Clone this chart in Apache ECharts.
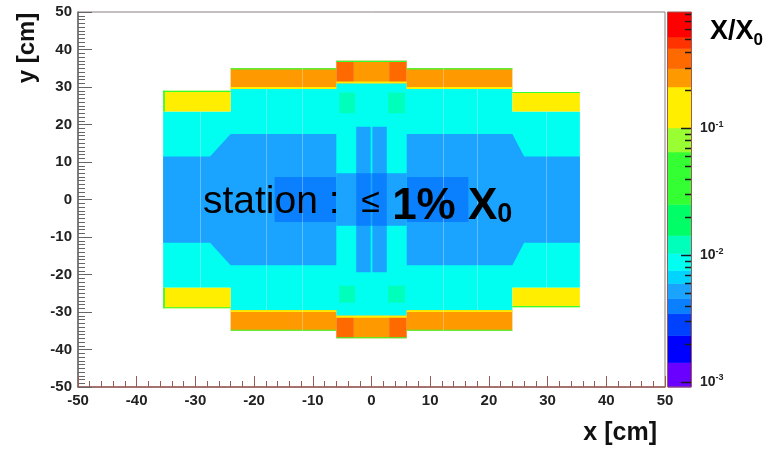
<!DOCTYPE html>
<html>
<head>
<meta charset="utf-8">
<script src="https://cdn.jsdelivr.net/npm/echarts@6/dist/echarts.min.js"></script>
<style>
html, body { margin: 0; padding: 0; background: #fff; }
#chart { width: 777px; height: 449px; }
</style>
</head>
<body>
<div id="chart"></div>
<script>
// colour scale: band edges in log10(X/X0) and one colour per band (low -> high)
var bandEdges = [-3.04, -2.846, -2.633, -2.46, -2.341, -2.223, -2.12, -1.986, -1.844, -1.6, -1.187, -0.998, -0.674, -0.529, -0.371, -0.28, -0.085];
var bandColors = ['#6a00ff', '#0000ff', '#0040ff', '#0a80ff', '#1aa3ff', '#00d4ff', '#00fff0', '#00ffbb', '#00ff66', '#33ff33', '#99ff33', '#ffee00', '#ff9900', '#ff6a00', '#ff3300', '#ff0000'];
var cbarMajor = [0.001, 0.01, 0.1];
var cbarMinor = [0.002, 0.003, 0.004, 0.005, 0.006, 0.007, 0.008, 0.009,
                 0.02, 0.03, 0.04, 0.05, 0.06, 0.07, 0.08, 0.09,
                 0.2, 0.3, 0.4, 0.5, 0.6, 0.7, 0.8];

// material map, painted in order: [xmin, xmax, ymin, ymax, X/X0]
var cyanBlocks = [
    [-35.5, 35.5, -23.5, 23.5, 0.009],
    [-24, 24, -29.5, 29.5, 0.009],
    [-6, 6, -31, 31, 0.009]
];
var yellowBlocks = [
    [-35.5, -24, 23.5, 29, 0.15], [24, 35.5, 23.5, 28.7, 0.15],
    [-35.5, -24, -29, -23.5, 0.15], [24, 35.5, -28.7, -23.5, 0.15]
];
var orangeBlocks = [
    [-24, -6, 29.5, 35, 0.25], [6, 24, 29.5, 35, 0.25],
    [-24, -6, -35, -29.5, 0.25], [6, 24, -35, -29.5, 0.25]
];
var centreBlocks = [
    [-6, -3, 31, 37, 0.35], [-3, 3, 31, 37, 0.22], [3, 6, 31, 37, 0.35],
    [-6, -3, -37, -31, 0.35], [-3, 3, -37, -31, 0.22], [3, 6, -37, -31, 0.35]
];
// inner / outer edges of the frames
var edgeStrips = [
    [-24, -6, 29.5, 30, 0.12], [6, 24, 29.5, 30, 0.12], [-24, -6, -30, -29.5, 0.12], [6, 24, -30, -29.5, 0.12],
    [-6, 6, 31, 31.5, 0.12], [-6, 6, -31.5, -31, 0.12],
    [-24, -6, 34.7, 35, 0.04], [6, 24, 34.7, 35, 0.04], [-24, -6, -35, -34.7, 0.04], [6, 24, -35, -34.7, 0.04],
    [-6, 6, 36.7, 37, 0.04], [-6, 6, -37, -36.7, 0.04],
    [-35.5, -24, 28.7, 29, 0.04], [24, 35.5, 28.4, 28.7, 0.04],
    [-35.5, -24, -29, -28.7, 0.04], [24, 35.5, -28.7, -28.4, 0.04],
    [-35.5, -35.2, 23.5, 29, 0.04], [-35.5, -35.2, -29, -23.5, 0.04]
];
// thin sensor region, polygons in cm
var bluePolys = [
    [0.005, [[-35.5, -11.5], [-35.5, 11.5], [-27.5, 11.5], [-24, 17.5], [-6, 17.5], [-6, -17.5], [-24, -17.5], [-27.5, -11.5]]],
    [0.005, [[35.5, -11.5], [35.5, 11.5], [26, 11.5], [24, 17.5], [6, 17.5], [6, -17.5], [24, -17.5], [26, -11.5]]]
];
var innerBlocks = [
    [-16.5, -6, -6, 6, 0.004], [6, 16.5, -6, 6, 0.004],
    [-6, 6, -7, 7, 0.005],
    [-2.6, -0.15, -19.4, 19.4, 0.005], [0.15, 2.6, -19.4, 19.4, 0.005],
    [-2.6, -0.15, -7, 7, 0.004], [0.15, 2.6, -7, 7, 0.004],
    [-5.5, -2.8, 23, 28.5, 0.012], [2.8, 5.7, 23, 28.5, 0.012],
    [-5.5, -2.8, -27.5, -23, 0.012], [2.8, 5.7, -27.5, -23, 0.012]
];
// faint module boundaries: [x, ymin, ymax] in cm
var moduleEdges = [
    [-29.2, -23.5, 23.5], [-17.9, -29.5, 29.5], [-11.8, -35, 35],
    [12.2, -35, 35], [17.9, -29.5, 29.5], [29.8, -23.5, 23.5]
];

// colour bar box in pixels
var cbarLeft = 668;
var cbarWidth = 23;

function colorOf(v) {
    var lv = Math.log10(v);
    for (var i = 0; i < bandColors.length; i++) {
        if (lv < bandEdges[i + 1]) return bandColors[i];
    }
    return bandColors[bandColors.length - 1];
}

function rectItem(params, api) {
    var p0 = api.coord([api.value(0), api.value(3)]);
    var p1 = api.coord([api.value(1), api.value(2)]);
    return {
        type: 'rect',
        shape: { x: p0[0], y: p0[1], width: p1[0] - p0[0], height: p1[1] - p0[1] },
        style: { fill: colorOf(api.value(4)) }
    };
}

function rectSeries(blocks, z) {
    return {
        type: 'custom', xAxisIndex: 0, yAxisIndex: 0, z: z, clip: true,
        renderItem: rectItem, data: blocks, silent: true
    };
}

var cbarData = bandColors.map(function (c, i) {
    return [Math.pow(10, bandEdges[i]), Math.pow(10, bandEdges[i + 1]), i];
});
var zMin = Math.pow(10, bandEdges[0]);
var zMax = Math.pow(10, bandEdges[bandEdges.length - 1]);

var chart = echarts.init(document.getElementById('chart'));
var font = 'Liberation Sans, Arial, sans-serif';

chart.setOption({
    backgroundColor: '#fff',
    animation: false,
    grid: [
        { left: 78, right: 112, top: 12, bottom: 62, outerBoundsMode: 'none', show: true, borderColor: '#8a8080', borderWidth: 1, backgroundColor: '#fff' },
        { left: cbarLeft, width: cbarWidth, top: 12, bottom: 62, outerBoundsMode: 'none' }
    ],
    xAxis: [{
        gridIndex: 0, type: 'value', min: -50, max: 50, interval: 10,
        axisLine: { onZero: false, lineStyle: { color: '#9a5a55', width: 1.5 } },
        axisTick: { inside: true, length: 11, lineStyle: { color: '#9a5a55' } },
        minorTick: { show: true, splitNumber: 5, length: 6, lineStyle: { color: '#9a5a55' } },
        splitLine: { show: false },
        axisLabel: { color: '#222', fontWeight: 'bold', fontSize: 15, margin: 6, fontFamily: font }
    }, {
        gridIndex: 1, type: 'value', min: 0, max: 1, show: false
    }],
    yAxis: [{
        gridIndex: 0, type: 'value', min: -50, max: 50, interval: 10,
        axisLine: { onZero: false, lineStyle: { color: '#666', width: 1.5 } },
        axisTick: { inside: true, length: 14, lineStyle: { color: '#666' } },
        minorTick: { show: true, splitNumber: 10, length: 7, lineStyle: { color: '#666' } },
        splitLine: { show: false },
        axisLabel: { color: '#222', fontWeight: 'bold', fontSize: 15, margin: 6, fontFamily: font }
    }, {
        // colour bar labels
        gridIndex: 1, type: 'log', logBase: 10, min: zMin, max: zMax,
        position: 'right',
        axisLine: { show: false },
        axisTick: { show: false },
        splitLine: { show: false },
        axisLabel: {
            margin: 9, showMinLabel: false, showMaxLabel: false,
            formatter: function (v) {
                var e = Math.round(Math.log10(v));
                if (Math.abs(Math.log10(v) - e) > 0.01) return '';
                return '{b|10}{s|' + e + '}';
            },
            rich: {
                b: { fontSize: 14, fontWeight: 'bold', color: '#222', fontFamily: font, lineHeight: 17 },
                s: { fontSize: 9, fontWeight: 'bold', color: '#222', fontFamily: font, lineHeight: 9, verticalAlign: 'top' }
            }
        }
    }],
    series: [
        rectSeries(cyanBlocks, 1),
        rectSeries(yellowBlocks, 2),
        rectSeries(orangeBlocks, 2),
        rectSeries(centreBlocks, 2),
        rectSeries(edgeStrips, 3),
        {
            type: 'custom', xAxisIndex: 0, yAxisIndex: 0, z: 4, clip: true, silent: true,
            data: bluePolys.map(function (p) { return [p[0]]; }),
            renderItem: function (params, api) {
                var poly = bluePolys[params.dataIndex];
                return {
                    type: 'polygon',
                    shape: { points: poly[1].map(function (pt) { return api.coord(pt); }) },
                    style: { fill: colorOf(poly[0]) }
                };
            }
        },
        rectSeries(innerBlocks, 5),
        {
            type: 'custom', xAxisIndex: 0, yAxisIndex: 0, z: 6, clip: true, silent: true,
            data: moduleEdges,
            renderItem: function (params, api) {
                var a = api.coord([api.value(0), api.value(1)]);
                var b = api.coord([api.value(0), api.value(2)]);
                var x = Math.round(a[0]) + 0.5;
                return {
                    type: 'line',
                    shape: { x1: x, y1: a[1], x2: x, y2: b[1] },
                    style: { stroke: 'rgba(255,255,255,0.3)', lineWidth: 1 }
                };
            }
        },
        {
            // colour bar
            type: 'custom', xAxisIndex: 1, yAxisIndex: 1, silent: true, z: 1,
            data: cbarData,
            renderItem: function (params, api) {
                var p0 = api.coord([0, api.value(1)]);
                var p1 = api.coord([1, api.value(0)]);
                return {
                    type: 'rect',
                    shape: { x: p0[0], y: p0[1], width: p1[0] - p0[0], height: p1[1] - p0[1] + 0.5 },
                    style: { fill: bandColors[api.value(2)] }
                };
            }
        }
    ]
});

// colour bar ticks on the bar's right edge, pointing in; heights through the log axis
var barRight = cbarLeft + cbarWidth;
function tickLine(v, len) {
    var y = Math.round(Number(chart.convertToPixel({ yAxisIndex: 1 }, v))) + 0.5;
    return {
        type: 'line', z: 50,
        shape: { x1: barRight - len, y1: y, x2: barRight, y2: y },
        style: { stroke: '#1a1a1a', lineWidth: 1.5 }
    };
}

var graphics = [
    {
        type: 'rect', z: 40,
        shape: { x: cbarLeft - 0.5, y: 12, width: cbarWidth + 1, height: 375 },
        style: { fill: 'transparent', stroke: '#9a5a55', lineWidth: 1 }
    },
    {
        type: 'text', z: 40, left: 203, top: 183,
        style: {
            text: '{a|station :  }{le|≤}{b| 1% X}{sub|0}',
            rich: {
                a: { fontSize: 39, color: '#0c1840', fontFamily: font, lineHeight: 48 },
                le: { fontSize: 34, color: '#0c1840', fontFamily: font, lineHeight: 48 },
                b: { fontSize: 44, fontWeight: 'bold', color: '#000', fontFamily: font, lineHeight: 52, verticalAlign: 'bottom' },
                sub: { fontSize: 27, fontWeight: 'bold', color: '#000', fontFamily: font, lineHeight: 20, verticalAlign: 'bottom' }
            }
        }
    },
    {
        type: 'text', z: 40, left: 710, top: 18,
        style: {
            text: '{t|X/X}{sub|0}',
            rich: {
                t: { fontSize: 27, fontWeight: 'bold', color: '#111', fontFamily: font, lineHeight: 34 },
                sub: { fontSize: 17, fontWeight: 'bold', color: '#111', fontFamily: font, lineHeight: 14, verticalAlign: 'bottom' }
            }
        }
    },
    {
        type: 'text', z: 40, x: 27, y: 48, rotation: Math.PI / 2,
        style: { text: 'y [cm]', fontSize: 24, fontWeight: 'bold', fill: '#111', fontFamily: font, align: 'center', verticalAlign: 'middle' }
    },
    {
        type: 'text', z: 40, x: 657, y: 433,
        style: { text: 'x [cm]', fontSize: 25, fontWeight: 'bold', fill: '#111', fontFamily: font, align: 'right', verticalAlign: 'middle' }
    }
].concat(cbarMajor.map(function (v) { return tickLine(v, 10); }))
 .concat(cbarMinor.map(function (v) { return tickLine(v, 6); }));

chart.setOption({ graphic: graphics });
</script>
</body>
</html>
